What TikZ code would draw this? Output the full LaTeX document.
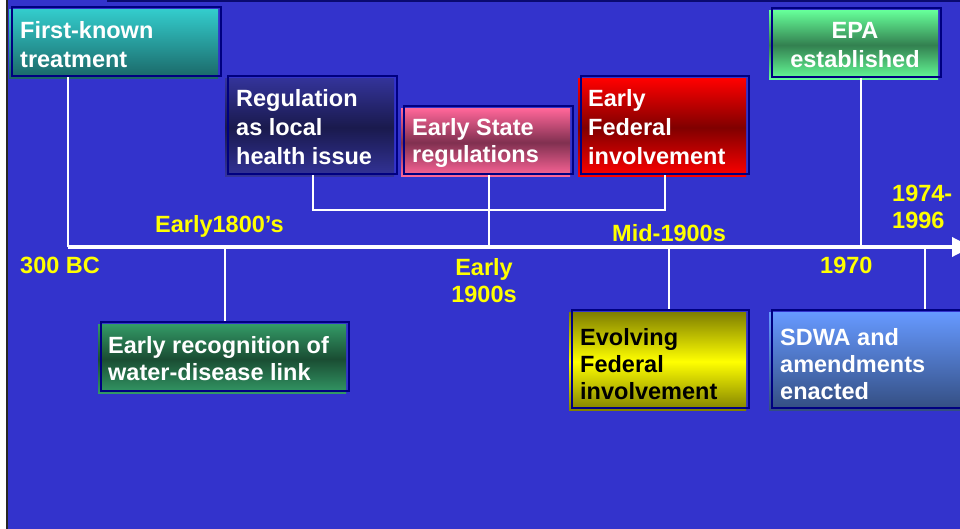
\documentclass[tikz,border=0pt]{standalone}
\usepackage{fontspec}
\setmainfont{Liberation Sans}
\usetikzlibrary{arrows.meta}
\definecolor{bg}{HTML}{3333CC}
\definecolor{navy}{HTML}{000080}
\definecolor{topbar}{HTML}{0A0A70}
\definecolor{yel}{HTML}{FFFF00}
\newcommand\tlbox[6]{%
  \shade[#6] ({#2-3},{#3+2.5}) rectangle ({#4-3},{#5+2.5});
  \node[boxframe, minimum width={#4-#2}, minimum height={#5-#3}] (#1) at ({(#2+#4)/2},{(#3+#5)/2}) {};
}
\begin{document}
\begin{tikzpicture}[x=1pt,y=-1pt,
  boxframe/.style={draw=navy, line width=2pt, inner sep=0pt, fill=none},
  boxtext/.style={font=\fontsize{23.5}{28.8}\selectfont\bfseries, text=white, inner sep=0pt},
  lowtext/.style={font=\fontsize{23.5}{27}\selectfont\bfseries, text=white, inner sep=0pt},
  yearlabel/.style={font=\fontsize{23.5}{27}\selectfont\bfseries, text=yel, inner sep=0pt},
  conn/.style={draw=white, line width=2pt},
  tl/.style={draw=white, line width=3.5pt}]
\useasboundingbox (0,0) rectangle (960,529);
\clip (0,0) rectangle (960,529);
% background
\fill[bg] (0,0) rectangle (960,529);
\fill[white] (0,0) rectangle (5.5,529);
\fill[black!85] (5.5,0) rectangle (7.5,529);
\fill[topbar] (107,-2) rectangle (960,2.5);
% timeline coordinates
\coordinate (tA) at (68,247);
\coordinate (tB) at (225,247);
\coordinate (tC) at (489,247);
\coordinate (tD) at (669,247);
\coordinate (tE) at (861,247);
\coordinate (tF) at (925,247);
\coordinate (tArrow) at (972,247);
\coordinate (bl) at (313,210);
\coordinate (br) at (665,210);
% boxes
\tlbox{fk}{12}{7}{221}{76}{top color={rgb,255:red,51;green,204;blue,204}, bottom color={rgb,255:red,26;green,102;blue,102}}
\tlbox{reg}{228}{76}{397}{174}{top color={rgb,255:red,51;green,51;blue,153}, bottom color={rgb,255:red,51;green,51;blue,153}, middle color={rgb,255:red,26;green,26;blue,77}}
\tlbox{es}{404}{106}{573}{174}{top color={rgb,255:red,255;green,102;blue,153}, bottom color={rgb,255:red,255;green,102;blue,153}, middle color={rgb,255:red,128;green,48;blue,80}}
\tlbox{ef}{581}{76}{749}{174}{top color=red, bottom color=red, middle color={rgb,255:red,128;green,0;blue,0}}
\tlbox{ep}{772}{8}{941}{77}{top color={rgb,255:red,102;green,255;blue,153}, bottom color={rgb,255:red,102;green,255;blue,153}, middle color={rgb,255:red,51;green,128;blue,80}}
\tlbox{er}{101}{322}{349}{391}{top color={rgb,255:red,51;green,153;blue,102}, bottom color={rgb,255:red,51;green,153;blue,102}, middle color={rgb,255:red,26;green,77;blue,51}}
\tlbox{ev}{572}{310}{749}{408}{top color={rgb,255:red,128;green,128;blue,0}, bottom color={rgb,255:red,128;green,128;blue,0}, middle color=yellow}
\tlbox{sd}{772}{310}{990}{408}{top color={rgb,255:red,102;green,153;blue,255}, bottom color={rgb,255:red,51;green,77;blue,128}}
% connectors
\draw[conn] (fk.south -| tA) -- (tA);
\draw[conn] (tB) -- (er.north -| tB);
\draw[conn] (reg.south -| bl) -- (bl) -- (br) -- (ef.south -| br);
\draw[conn] (es.south -| tC) -- (tC);
\draw[conn] (ep.south -| tE) -- (tE);
\draw[conn] (tD) -- (ev.north -| tD);
\draw[conn] (tF) -- (sd.north -| tF);
% timeline
\draw[tl, -{Triangle[width=19pt,length=20pt]}] (tA) -- (tArrow);
% box texts
\node[boxtext, anchor=base west] (fkt) at (20,39) {\begin{tabular}[t]{@{}l@{}}First-known\\treatment\end{tabular}};
\node[boxtext, anchor=base west] (regt) at (236,106.5) {\begin{tabular}[t]{@{}l@{}}Regulation\\as local\\health issue\end{tabular}};
\node[lowtext, anchor=base west] (est) at (412,136) {\begin{tabular}[t]{@{}l@{}}Early State\\regulations\end{tabular}};
\node[boxtext, anchor=base west] (eft) at (588,107) {\begin{tabular}[t]{@{}l@{}}Early\\Federal\\involvement\end{tabular}};
\node[boxtext, anchor=base] (ept) at (855,39) {\begin{tabular}[t]{@{}c@{}}EPA\\established\end{tabular}};
\node[lowtext, anchor=base west] (ert) at (108,353) {\begin{tabular}[t]{@{}l@{}}Early recognition of\\water-disease link\end{tabular}};
\node[lowtext, anchor=base west, text=black] (evt) at (580,345) {\begin{tabular}[t]{@{}l@{}}Evolving\\Federal\\involvement\end{tabular}};
\node[lowtext, anchor=base west] (sdt) at (780,345) {\begin{tabular}[t]{@{}l@{}}SDWA and\\amendments\\enacted\end{tabular}};
% year labels
\node[yearlabel, anchor=base west] (y1800) at (155,233) {Early1800’s};
\node[yearlabel, anchor=base west] (y300) at (20,273) {300 BC};
\node[yearlabel, anchor=base] (y1900) at (484,275) {\begin{tabular}[t]{@{}c@{}}Early\\1900s\end{tabular}};
\node[yearlabel, anchor=base west] (ymid) at (612,241) {Mid-1900s};
\node[yearlabel, anchor=base west] (y1970) at (820,273) {1970};
\node[yearlabel, anchor=base west] (y1974) at (892,202) {\begin{tabular}[t]{@{}l@{}}1974-\\1996\end{tabular}};
\end{tikzpicture}
\end{document}
